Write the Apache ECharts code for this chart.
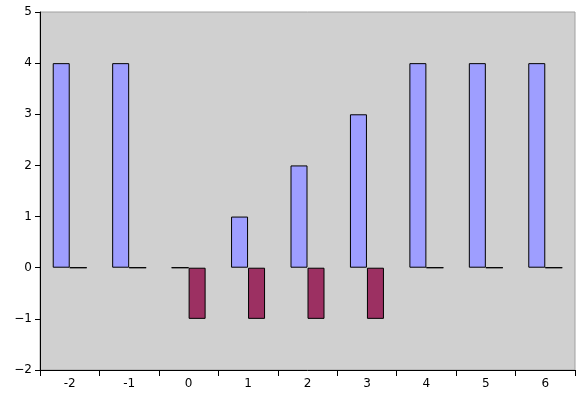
<!DOCTYPE html>
<html>
<head>
<meta charset="utf-8">
<script src="https://cdn.jsdelivr.net/npm/echarts@6/dist/echarts.min.js"></script>
<style>
  html, body { margin: 0; padding: 0; background: #fff; }
  #chart { width: 580px; height: 397px; }
</style>
</head>
<body>
<div id="chart"></div>
<script>
// categories along the x axis
const categories = ['-2', '-1', '0', '1', '2', '3', '4', '5', '6']
// blue series (upper)
const blueValues = [4, 4, 0, 1, 2, 3, 4, 4, 4]
// maroon series (lower)
const redValues = [0, 0, -1, -1, -1, -1, 0, 0, 0]

const chart = echarts.init(document.getElementById('chart'))
const font = 'DejaVu Sans'

chart.setOption({
  animation: false,
  grid: {
    left: 40,
    right: 5,
    top: 12,
    bottom: 27,
    show: true,
    backgroundColor: '#d0d0d0',
    borderColor: '#a0a0a0',
    borderWidth: 1
  },
  xAxis: {
    type: 'category',
    data: categories,
    position: 'bottom',
    axisLine: { onZero: false, lineStyle: { color: '#000', width: 1 } },
    axisTick: { show: true, length: 6, lineStyle: { color: '#000' } },
    axisLabel: { color: '#000', fontFamily: font, fontSize: 12, margin: 8 },
    splitLine: { show: false }
  },
  yAxis: {
    type: 'value',
    min: -2,
    max: 5,
    interval: 1,
    axisLine: { show: true, lineStyle: { color: '#000', width: 1 } },
    axisTick: { show: true, length: 5, lineStyle: { color: '#000' } },
    axisLabel: {
      color: '#000', fontFamily: font, fontSize: 12, margin: 8,
      formatter: v => String(v).replace('-', '\u2212')
    },
    splitLine: { show: false }
  },
  series: [
    {
      type: 'bar',
      data: blueValues,
      barWidth: 17,
      barGap: '0%',
      itemStyle: { color: '#9e9eff', borderColor: '#000', borderWidth: 1, borderRadius: 0 }
    },
    {
      type: 'bar',
      data: redValues,
      barWidth: 17,
      itemStyle: { color: '#9c3062', borderColor: '#000', borderWidth: 1, borderRadius: 0 }
    }
  ]
})
</script>
</body>
</html>
